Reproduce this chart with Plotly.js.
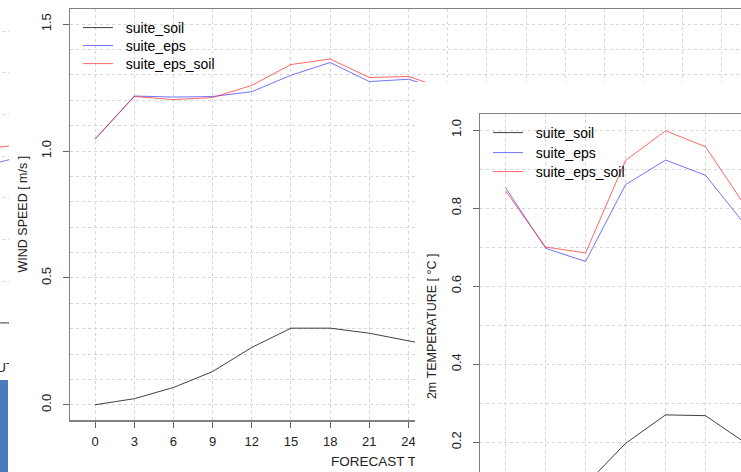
<!DOCTYPE html>
<html>
<head>
<meta charset="utf-8">
<script src="https://cdn.plot.ly/plotly-3.0.1.min.js"></script>
<style>
  html, body { margin: 0; padding: 0; width: 741px; height: 472px; overflow: hidden; background: #fff; }
  .win { position: absolute; background: #fff; }
  #leftWin { left: -300px; top: -20px; width: 340px; height: 400px; z-index: 1; }
  #windWin { left: 9px; top: 0; width: 801px; height: 480px; z-index: 2; }
  #tempWin { left: 415px; top: 82px; width: 800px; height: 600px; z-index: 3; }
  #dock { position: absolute; left: 0; top: 380px; width: 8px; height: 92px; background: #4b7bbd; z-index: 4; }
</style>
</head>
<body>
<div id="leftWin" class="win"></div>
<div id="windWin" class="win"></div>
<div id="tempWin" class="win"></div>
<div id="dock"></div>
<script>
// ---- data ----
const seriesNames = ['suite_soil', 'suite_eps', 'suite_eps_soil'];

// 10 m wind speed verification, forecast hours
const windHours = [0, 3, 6, 9, 12, 15, 18, 21, 24, 27];
const windSoil = [0.0, 0.024, 0.068, 0.131, 0.226, 0.302, 0.302, 0.282, 0.252, 0.222];
const windEps = [1.047, 1.217, 1.213, 1.215, 1.234, 1.299, 1.349, 1.274, 1.283, 1.237];
const windEpsSoil = [1.047, 1.215, 1.203, 1.211, 1.259, 1.341, 1.363, 1.290, 1.294, 1.242];

// 2 m temperature verification
const tempHours = [0, 3, 6, 9, 12, 15, 18];
const tempSoil = [0.02, -0.025, 0.091, 0.197, 0.270, 0.268, 0.198];
const tempEps = [0.852, 0.697, 0.663, 0.860, 0.923, 0.884, 0.756];
const tempEpsSoil = [0.844, 0.700, 0.685, 0.922, 0.998, 0.957, 0.804];

// tail of the neighbouring panel
const leftHours = [21, 24];
const leftSoil = [0.0, 0.0];
const leftEps = [0.738, 0.787];
const leftEpsSoil = [0.827, 0.851];

// ---- styling ----
const FONT = 'Liberation Sans, Arial, Helvetica, sans-serif';
const lineColors = ['rgba(0,0,0,0.75)', 'rgba(40,40,255,0.65)', 'rgba(255,20,20,0.65)'];
const legendIds = ['legend', 'legend2', 'legend3'];
const GRID = '#d6d6d6';
const FRAME = '#808080';

function traces(x, ys, showLegend) {
  return ys.map((y, i) => ({
    type: 'scatter', mode: 'lines', x: x, y: y,
    name: '\u00a0\u00a0' + seriesNames[i],
    line: { color: lineColors[i], width: 1 },
    showlegend: showLegend, legend: legendIds[i], hoverinfo: 'skip'
  }));
}

function xAxis(range) {
  return {
    range: range, tickmode: 'linear', tick0: 0, dtick: 3,
    ticks: 'outside', ticklen: 6, tickwidth: 1, tickcolor: '#666',
    showline: true, mirror: true, linecolor: FRAME, linewidth: 1.5,
    showgrid: true, gridcolor: GRID, griddash: 'dot', gridwidth: 1,
    zeroline: false, ticklabelstandoff: 3,
    tickfont: { family: FONT, size: 13, color: '#222' }
  };
}

function yAxis(range, dtick, minorDtick) {
  return {
    range: range, tickmode: 'linear', tick0: 0, dtick: dtick, tickformat: '.1f',
    tickangle: -90, ticks: 'outside', ticklen: 6, tickwidth: 1, tickcolor: '#666',
    showline: true, mirror: true, linecolor: FRAME, linewidth: 1.5,
    showgrid: true, gridcolor: GRID, griddash: 'dot', gridwidth: 1,
    zeroline: false, ticklabelstandoff: 6,
    minor: { dtick: minorDtick, showgrid: true, gridcolor: GRID, griddash: 'dot', gridwidth: 1, ticks: '' },
    tickfont: { family: FONT, size: 13, color: '#222' }
  };
}

// one legend box per series so each row sits at its own height
function legendBox(x, y) {
  return {
    x: x, y: y, xanchor: 'left', yanchor: 'top',
    bgcolor: 'rgba(0,0,0,0)', borderwidth: 0,
    font: { family: FONT, size: 14, color: '#000' }
  };
}

const cfg = { staticPlot: true, displayModeBar: false };

// ---- neighbouring panel (mostly hidden) ----
Plotly.newPlot('leftWin', traces(leftHours, [leftSoil, leftEps, leftEpsSoil], false), {
  width: 340, height: 400,
  margin: { l: 50, r: 10, t: 12, b: 50 },
  paper_bgcolor: '#fff', plot_bgcolor: '#fff', showlegend: false,
  xaxis: Object.assign(xAxis([3.95, 25.38]), { showline: false, ticks: '', showticklabels: false }),
  yaxis: Object.assign(yAxis([-0.034, 1.588], 0.2, 0.2), { showline: false, showticklabels: false, ticks: '' }),
  annotations: [{
    xref: 'paper', yref: 'paper', x: 1.014, y: -0.112, xanchor: 'right', yanchor: 'middle',
    text: 'FORECAST TIME [ UTC ]', showarrow: false,
    font: { family: FONT, size: 13.5, color: '#222' }
  }]
}, cfg);

// ---- wind speed panel ----
Plotly.newPlot('windWin', traces(windHours, [windSoil, windEps, windEpsSoil], true), {
  width: 801, height: 480,
  margin: { l: 61, r: 63, t: 9, b: 60 },
  paper_bgcolor: '#fff', plot_bgcolor: '#fff',
  legend: legendBox(0.0118, 0.9927),
  legend2: legendBox(0.0118, 0.9489),
  legend3: legendBox(0.0118, 0.9051),
  xaxis: xAxis([-1.92, 49.92]),
  yaxis: yAxis([-0.06, 1.56], 0.5, 0.1),
  annotations: [
    { xref: 'paper', yref: 'paper', x: -0.0709, y: 0.5, xanchor: 'center', yanchor: 'middle',
      text: 'WIND SPEED [ m/s ]', textangle: -90, showarrow: false,
      font: { family: FONT, size: 12.5, color: '#222' } },
    { xref: 'paper', yref: 'paper', x: 0.5, y: -0.102, xanchor: 'center', yanchor: 'middle',
      text: 'FORECAST TIME [ UTC ]', showarrow: false,
      font: { family: FONT, size: 13.5, color: '#222' } }
  ]
}, cfg);

// ---- 2 m temperature panel ----
Plotly.newPlot('tempWin', traces(tempHours, [tempSoil, tempEps, tempEpsSoil], true), {
  width: 800, height: 600,
  margin: { l: 65, r: 44, t: 32, b: 136 },
  paper_bgcolor: '#fff', plot_bgcolor: '#fff',
  legend: legendBox(0.0116, 0.9931),
  legend2: legendBox(0.0116, 0.9468),
  legend3: legendBox(0.0116, 0.9028),
  xaxis: xAxis([-1.92, 49.92]),
  yaxis: yAxis([-0.066, 1.041], 0.2, 0.1),
  annotations: [
    { xref: 'paper', yref: 'paper', x: -0.0695, y: 0.509, xanchor: 'center', yanchor: 'middle',
      text: '2m TEMPERATURE [ °C ]', textangle: -90, showarrow: false,
      font: { family: FONT, size: 12.5, color: '#222' } }
  ]
}, cfg);
</script>
</body>
</html>
